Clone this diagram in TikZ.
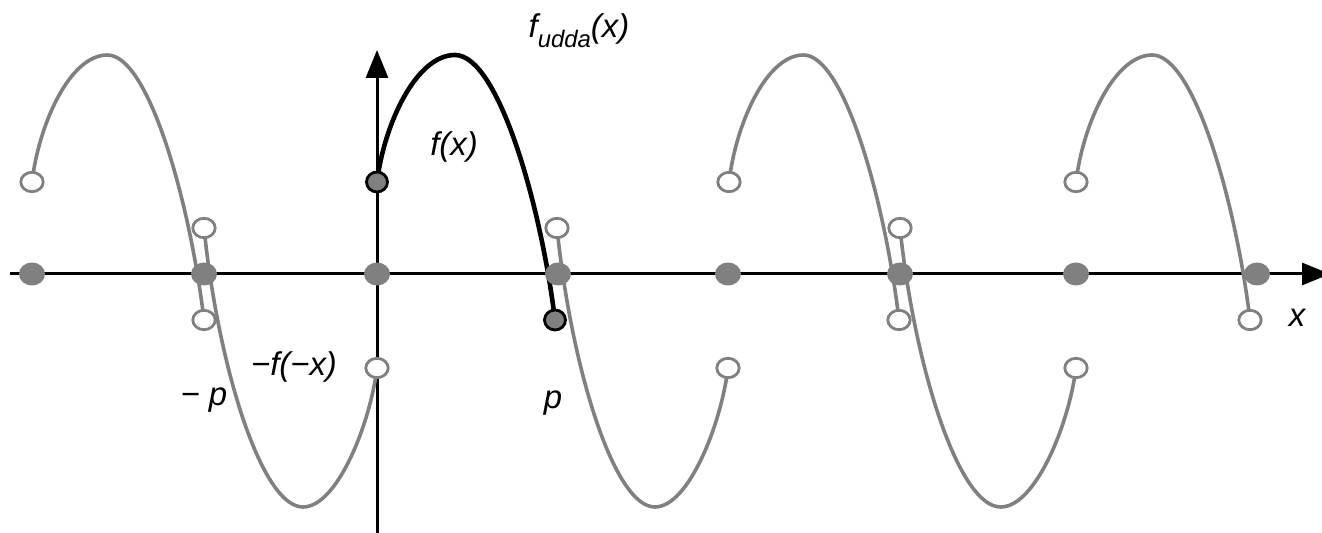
\documentclass[tikz,border=0pt]{standalone}
\usepackage{fontspec}
\setmainfont{Liberation Sans}
\usetikzlibrary{arrows.meta}

\definecolor{curvegray}{RGB}{128,128,128}

% one hump of f, scaled to a given width
\newcommand{\hump}[3]{%
  \draw[#1,shift={(#2,0)},xscale=#3] (0,92) .. controls (0.04,150) and (0.22,219) .. (0.438,219)
    .. controls (0.68,219) and (0.92,70) .. (1,-46);}
% one valley of -f(-x)
\newcommand{\valley}[3]{%
  \draw[#1,shift={(#2,0)},xscale=#3] (0,46) .. controls (0.08,-90) and (0.33,-233) .. (0.572,-233)
    .. controls (0.77,-233) and (0.96,-150) .. (1,-94);}

\begin{document}
\begin{tikzpicture}[x=1bp,y=1bp,
  axis/.style={line width=3bp,-{Triangle[length=28bp,width=22bp]}},
  graycurve/.style={curvegray,line width=3.6bp},
  blackcurve/.style={black,line width=4.6bp},
  hole/.style={draw=curvegray,fill=white,line width=2.8bp},
  dot/.style={fill=curvegray},
  endpt/.style={draw=black,fill=curvegray,line width=2.8bp},
  lbl/.style={anchor=base,inner sep=0pt,font=\fontsize{33}{40}\selectfont\itshape}]
  \useasboundingbox (-377,-259) rectangle (945,274);
  \draw[axis] (-367,0) -- (953,0);
  \draw[axis] (0,-262) -- (0,224);
  % gray copies
  \hump{graycurve}{-345}{172}
  \hump{graycurve}{352}{170}
  \hump{graycurve}{699}{174}
  \valley{graycurve}{-173}{173}
  \valley{graycurve}{180}{171}
  \valley{graycurve}{523}{176}
  % f itself
  \hump{blackcurve}{0}{178}
  \foreach \x in {-345,-173,0,181,351,523,699,880}
    \fill[dot] (\x,0) ellipse [x radius=13, y radius=11.5];
  \foreach \x/\w in {-345/172,352/170,699/174} {
    \filldraw[hole] (\x,92) ellipse [x radius=11.2, y radius=9.7];
    \filldraw[hole] (\x+\w,-46) ellipse [x radius=11.2, y radius=9.7];
  }
  \foreach \x/\w in {-173/173,180/171,523/176} {
    \filldraw[hole] (\x,46) ellipse [x radius=11.2, y radius=9.7];
    \filldraw[hole] (\x+\w,-94) ellipse [x radius=11.2, y radius=9.7];
  }
  \filldraw[endpt] (0,92) ellipse [x radius=10.5, y radius=10];
  \filldraw[endpt] (178,-46) ellipse [x radius=10.5, y radius=10];
  % labels
  \node[lbl] (fx) at (77,118) {f(x)};
  \node[lbl] (fodd) at (202,236) {f\raisebox{-0.3em}{\fontsize{24}{24}\selectfont udda}(x)};
  \node[lbl] (mfmx) at (-83,-102) {−f(−x)};
  \node[lbl] (mp) at (-173,-132) {− p};
  \node[lbl] (p) at (176,-135) {p};
  \node[lbl] (xlab) at (920,-53) {x};
\end{tikzpicture}
\end{document}
